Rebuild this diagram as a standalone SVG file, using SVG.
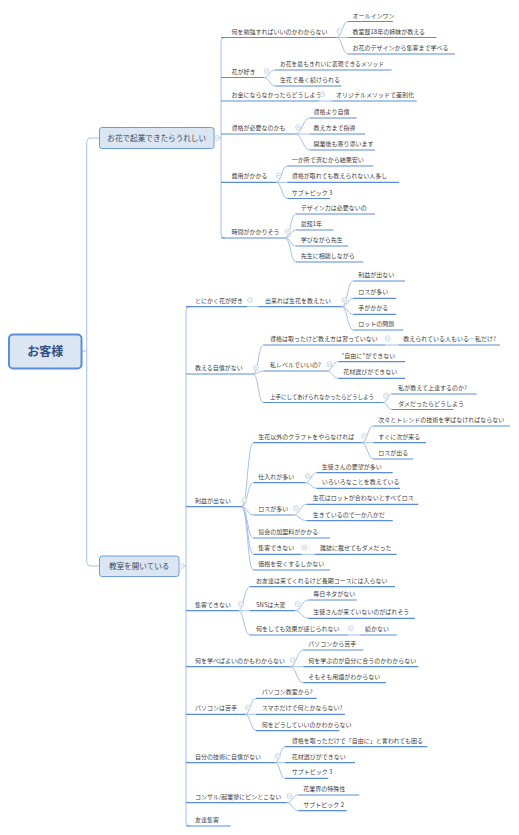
<svg xmlns="http://www.w3.org/2000/svg" xmlns:xlink="http://www.w3.org/1999/xlink" width="519" height="835" viewBox="0 0 519 835">
<style>
.t{font-family:"Noto Sans CJK JP","Noto Sans",sans-serif;font-size:6px;fill:#404040}
.bt{font-family:"Noto Sans CJK JP","Noto Sans",sans-serif;font-size:7.6px;fill:#3a4660;text-anchor:middle}
.rt{font-family:"Noto Sans CJK JP","Noto Sans",sans-serif;font-size:12px;font-weight:bold;fill:#34507a;text-anchor:middle}
.u{stroke:#5a8dd6;stroke-width:1.2;fill:none}
.c{stroke:#a3c0ea;stroke-width:1;fill:none}
.box{fill:#dce6f2;stroke:#6c9be0;stroke-width:1}
.root{fill:#dbe5f3;stroke:#5b8ed8;stroke-width:2}
.col circle{fill:#fff;stroke:#b9c5d9;stroke-width:0.7}
.col line{stroke:#b9c5d9;stroke-width:0.7}
</style>
<defs>
<g id="col" class="col"><circle r="2.5"/><line x1="-1.4" y1="0" x2="1.4" y2="0"/></g>
</defs>
<rect width="519" height="835" fill="#fff"/>

<g id="connectors">
<path class="c" d="M82 351 L86.7 351"/>
<path class="c" d="M99 138 L91 138 Q86.7 138 86.7 142.5 L86.7 561.5 Q86.7 566 91 566 L99 566"/>
<path class="c" d="M214 138 L221 138"/>
<path class="c" d="M225 37.5 Q221 37.5 221 41.5 L221 234 Q221 238 225 238"/>
<path class="c" d="M179 566 L186 566"/>
<path class="c" d="M190 306.7 Q186 306.7 186 310.7 L186 822 Q186 826 190 826"/>
<path class="c" d="M336.5 37.5 C342.2 37.5 342.2 21.5 348 21.5"/>
<path class="c" d="M336.5 37.5 L348 37.5"/>
<path class="c" d="M336.5 37.5 C342.2 37.5 342.2 54 348 54"/>
<path class="c" d="M264 77.5 C269.5 77.5 269.5 70 275 70"/>
<path class="c" d="M264 77.5 C269.5 77.5 269.5 86 275 86"/>
<path class="c" d="M319.3 101 L331.7 101"/>
<path class="c" d="M295 134 C302.5 134 302.5 118 310 118"/>
<path class="c" d="M295 134 L310 134"/>
<path class="c" d="M295 134 C302.5 134 302.5 150 310 150"/>
<path class="c" d="M276 182.3 C281.7 182.3 281.7 166 287.3 166"/>
<path class="c" d="M276 182.3 L287.3 182.3"/>
<path class="c" d="M276 182.3 C281.7 182.3 281.7 198.5 287.3 198.5"/>
<path class="c" d="M285 238 C290.5 238 290.5 214 296 214"/>
<path class="c" d="M285 238 C290.5 238 290.5 230 296 230"/>
<path class="c" d="M285 238 C290.5 238 290.5 246 296 246"/>
<path class="c" d="M285 238 C290.5 238 290.5 262 296 262"/>
<path class="c" d="M247.3 306.7 L258.3 306.7"/>
<path class="c" d="M341.7 306.7 C347.5 306.7 347.5 281 353.3 281"/>
<path class="c" d="M341.7 306.7 C347.5 306.7 347.5 298.3 353.3 298.3"/>
<path class="c" d="M341.7 306.7 C347.5 306.7 347.5 314.3 353.3 314.3"/>
<path class="c" d="M341.7 306.7 C347.5 306.7 347.5 330 353.3 330"/>
<path class="c" d="M253.3 374 C258.3 374 258.3 345 263.3 345"/>
<path class="c" d="M253.3 374 C258.3 374 258.3 371 263.3 371"/>
<path class="c" d="M253.3 374 C258.3 374 258.3 402.5 263.3 402.5"/>
<path class="c" d="M385 345 L398.3 345"/>
<path class="c" d="M326.7 371 C332.5 371 332.5 361.7 338.3 361.7"/>
<path class="c" d="M326.7 371 C332.5 371 332.5 378.3 338.3 378.3"/>
<path class="c" d="M383.3 402.5 C387.5 402.5 387.5 394 391.7 394"/>
<path class="c" d="M383.3 402.5 C387.5 402.5 387.5 409.5 391.7 409.5"/>
<path class="c" d="M241.7 506.7 C247.5 506.7 247.5 442.7 253.3 442.7"/>
<path class="c" d="M241.7 506.7 C247.5 506.7 247.5 482.7 253.3 482.7"/>
<path class="c" d="M241.7 506.7 C247.5 506.7 247.5 515 253.3 515"/>
<path class="c" d="M241.7 506.7 C247.5 506.7 247.5 538 253.3 538"/>
<path class="c" d="M241.7 506.7 C247.5 506.7 247.5 554.3 253.3 554.3"/>
<path class="c" d="M241.7 506.7 C247.5 506.7 247.5 570 253.3 570"/>
<path class="c" d="M361.7 442.7 C367.5 442.7 367.5 426 373.3 426"/>
<path class="c" d="M361.7 442.7 L373.3 442.7"/>
<path class="c" d="M361.7 442.7 C367.5 442.7 367.5 459 373.3 459"/>
<path class="c" d="M305 482.7 C311 482.7 311 472.7 316.7 472.7"/>
<path class="c" d="M305 482.7 C311 482.7 311 488.3 316.7 488.3"/>
<path class="c" d="M293.3 515 C300 515 300 504.3 306.7 504.3"/>
<path class="c" d="M293.3 515 C300 515 300 520.7 306.7 520.7"/>
<path class="c" d="M301.7 554.3 L315 554.3"/>
<path class="c" d="M238.3 610.7 C244 610.7 244 586.7 250 586.7"/>
<path class="c" d="M238.3 610.7 L250 610.7"/>
<path class="c" d="M238.3 610.7 C244 610.7 244 635 250 635"/>
<path class="c" d="M295 610.7 C301.6 610.7 301.6 600 308.3 600"/>
<path class="c" d="M295 610.7 C301.6 610.7 301.6 618.3 308.3 618.3"/>
<path class="c" d="M348.3 635 L360 635"/>
<path class="c" d="M290 666.7 C296.6 666.7 296.6 650 303.3 650"/>
<path class="c" d="M290 666.7 L303.3 666.7"/>
<path class="c" d="M290 666.7 C296.6 666.7 296.6 682.7 303.3 682.7"/>
<path class="c" d="M245 714.3 C250.5 714.3 250.5 698.3 256 698.3"/>
<path class="c" d="M245 714.3 L256 714.3"/>
<path class="c" d="M245 714.3 C250.5 714.3 250.5 730.7 256 730.7"/>
<path class="c" d="M275 762.7 C280 762.7 280 746.7 285 746.7"/>
<path class="c" d="M275 762.7 L285 762.7"/>
<path class="c" d="M275 762.7 C280 762.7 280 778.3 285 778.3"/>
<path class="c" d="M286.7 802.7 C292.5 802.7 292.5 795 298.3 795"/>
<path class="c" d="M286.7 802.7 C292.5 802.7 292.5 810.7 298.3 810.7"/>
</g>

<g id="root"><rect class="root" x="9" y="334.5" width="72.5" height="34" rx="4"/><text class="rt" x="45.3" y="355.5">お客様</text></g>

<g id="box1"><rect class="box" x="99.5" y="127.5" width="114.5" height="21" rx="2.5"/><text class="bt" x="156.7" y="140.7">お花で起業できたらうれしい</text><use xlink:href="#col" x="217" y="138"/></g>
<g id="box2"><rect class="box" x="99.5" y="556" width="79.5" height="20.5" rx="2.5"/><text class="bt" x="139.2" y="569">教室を開いている</text><use xlink:href="#col" x="181.7" y="566"/></g>

<g id="a1"><line class="u" x1="221" y1="37.5" x2="336.5" y2="37.5"/><text class="t" x="231.5" y="33.5">何を勉強すればいいのかわからない</text><use xlink:href="#col" x="339.3" y="31"/></g>
<g id="a1-1"><line class="u" x1="348" y1="21.5" x2="393" y2="21.5"/><text class="t" x="352.5" y="17.5">オールインワン</text></g>
<g id="a1-2"><line class="u" x1="348" y1="37.5" x2="436.5" y2="37.5"/><text class="t" x="352.5" y="33.5">教室歴18年の姉妹が教える</text></g>
<g id="a1-3"><line class="u" x1="348" y1="54" x2="455" y2="54"/><text class="t" x="352.5" y="50">お花のデザインから集客まで学べる</text></g>
<g id="a2"><line class="u" x1="221" y1="77.5" x2="264" y2="77.5"/><text class="t" x="231.5" y="73.5">花が好き</text><use xlink:href="#col" x="266.7" y="71"/></g>
<g id="a2-1"><line class="u" x1="275" y1="70" x2="391.5" y2="70"/><text class="t" x="280" y="66" textLength="104" lengthAdjust="spacingAndGlyphs">お花を最もきれいに表現できるメソッド</text></g>
<g id="a2-2"><line class="u" x1="275" y1="86" x2="341.5" y2="86"/><text class="t" x="280" y="82">生花で長く続けられる</text></g>
<g id="a3"><line class="u" x1="221" y1="101" x2="319.3" y2="101"/><text class="t" x="231.5" y="97">お金にならなかったらどうしよう</text><use xlink:href="#col" x="322.3" y="94.3"/></g>
<g id="a3-1"><line class="u" x1="331.7" y1="101" x2="416.7" y2="101"/><text class="t" x="336" y="97">オリジナルメソッドで差別化</text></g>
<g id="a4"><line class="u" x1="221" y1="134" x2="295" y2="134"/><text class="t" x="231.5" y="130">資格が必要なのかも</text><use xlink:href="#col" x="298" y="127.3"/></g>
<g id="a4-1"><line class="u" x1="310" y1="118" x2="356.7" y2="118"/><text class="t" x="313.5" y="114">資格より自信</text></g>
<g id="a4-2"><line class="u" x1="310" y1="134" x2="365" y2="134"/><text class="t" x="313.5" y="130">教え方まで指導</text></g>
<g id="a4-3"><line class="u" x1="310" y1="150" x2="375" y2="150"/><text class="t" x="313.5" y="146">開業後も寄り添います</text></g>
<g id="a5"><line class="u" x1="221" y1="182.3" x2="276" y2="182.3"/><text class="t" x="231.5" y="178.3">費用がかかる</text><use xlink:href="#col" x="278.7" y="175.6"/></g>
<g id="a5-1"><line class="u" x1="287.3" y1="166" x2="373.3" y2="166"/><text class="t" x="291.7" y="162">一か所で済むから結果安い</text></g>
<g id="a5-2"><line class="u" x1="287.3" y1="182.3" x2="399.3" y2="182.3"/><text class="t" x="291.7" y="178.3">資格が取れても教えられない人多し</text></g>
<g id="a5-3"><line class="u" x1="287.3" y1="198.5" x2="330" y2="198.5"/><text class="t" x="291.7" y="194.5">サブトピック 3</text></g>
<g id="a6"><line class="u" x1="221" y1="238" x2="285" y2="238"/><text class="t" x="231.5" y="234">時間がかかりそう</text><use xlink:href="#col" x="287.7" y="231.3"/></g>
<g id="a6-1"><line class="u" x1="296" y1="214" x2="375" y2="214"/><text class="t" x="300.7" y="210">デザイン力は必要ないの</text></g>
<g id="a6-2"><line class="u" x1="296" y1="230" x2="333.3" y2="230"/><text class="t" x="300.7" y="226">最短1年</text></g>
<g id="a6-3"><line class="u" x1="296" y1="246" x2="348.3" y2="246"/><text class="t" x="300.7" y="242">学びながら先生</text></g>
<g id="a6-4"><line class="u" x1="296" y1="262" x2="363.3" y2="262"/><text class="t" x="300.7" y="258">先生に相談しながら</text></g>

<g id="b1"><line class="u" x1="186" y1="306.7" x2="247.3" y2="306.7"/><text class="t" x="195" y="302.7">とにかく花が好き</text><use xlink:href="#col" x="250" y="300"/></g>
<g id="b1-1"><line class="u" x1="258.3" y1="306.7" x2="341.7" y2="306.7"/><text class="t" x="265" y="302.7">出来れば生花を教えたい</text><use xlink:href="#col" x="344.4" y="300"/></g>
<g id="b1-1-1"><line class="u" x1="353.3" y1="281" x2="405" y2="281"/><text class="t" x="358.3" y="277">利益が出ない</text></g>
<g id="b1-1-2"><line class="u" x1="353.3" y1="298.3" x2="396" y2="298.3"/><text class="t" x="358.3" y="294.3">ロスが多い</text></g>
<g id="b1-1-3"><line class="u" x1="353.3" y1="314.3" x2="396" y2="314.3"/><text class="t" x="358.3" y="310.3">手がかかる</text></g>
<g id="b1-1-4"><line class="u" x1="353.3" y1="330" x2="403.3" y2="330"/><text class="t" x="358.3" y="326">ロットの問題</text></g>

<g id="b2"><line class="u" x1="186" y1="374" x2="253.3" y2="374"/><text class="t" x="195" y="370">教える自信がない</text><use xlink:href="#col" x="256" y="367.3"/></g>
<g id="b2-1"><line class="u" x1="263.3" y1="345" x2="385" y2="345"/><text class="t" x="270" y="341">資格は取ったけど教え方は習っていない</text><use xlink:href="#col" x="387.7" y="338.3"/></g>
<g id="b2-1-1"><line class="u" x1="398.3" y1="345" x2="500" y2="345"/><text class="t" x="403.3" y="341">教えられている人もいる…私だけ?</text></g>
<g id="b2-2"><line class="u" x1="263.3" y1="371" x2="326.7" y2="371"/><text class="t" x="270" y="367">私レベルでいいの?</text><use xlink:href="#col" x="329.4" y="364.3"/></g>
<g id="b2-2-1"><line class="u" x1="338.3" y1="361.7" x2="405" y2="361.7"/><text class="t" x="341.5" y="357.7">“自由に”ができない</text></g>
<g id="b2-2-2"><line class="u" x1="338.3" y1="378.3" x2="405" y2="378.3"/><text class="t" x="343.3" y="374.3">花材選びができない</text></g>
<g id="b2-3"><line class="u" x1="263.3" y1="402.5" x2="383.3" y2="402.5"/><text class="t" x="270" y="398.5" textLength="104" lengthAdjust="spacingAndGlyphs">上手にしてあげられなかったらどうしよう</text><use xlink:href="#col" x="386" y="395.8"/></g>
<g id="b2-3-1"><line class="u" x1="391.7" y1="394" x2="476.7" y2="394"/><text class="t" x="398.3" y="390">私が教えて上達するのか?</text></g>
<g id="b2-3-2"><line class="u" x1="391.7" y1="409.5" x2="453.3" y2="409.5"/><text class="t" x="398.3" y="405.5">ダメだったらどうしよう</text></g>

<g id="b3"><line class="u" x1="186" y1="506.7" x2="241.7" y2="506.7"/><text class="t" x="195" y="502.7">利益が出ない</text><use xlink:href="#col" x="244.4" y="500"/></g>
<g id="b3-1"><line class="u" x1="253.3" y1="442.7" x2="361.7" y2="442.7"/><text class="t" x="258.3" y="438.7">生花以外のクラフトをやらなければ</text><use xlink:href="#col" x="364.4" y="436"/></g>
<g id="b3-1-1"><line class="u" x1="373.3" y1="426" x2="510" y2="426"/><text class="t" x="378.3" y="422">次々とトレンドの技術を学ばなければならない</text></g>
<g id="b3-1-2"><line class="u" x1="373.3" y1="442.7" x2="426" y2="442.7"/><text class="t" x="378.3" y="438.7">すぐに次が来る</text></g>
<g id="b3-1-3"><line class="u" x1="373.3" y1="459" x2="413.3" y2="459"/><text class="t" x="378.3" y="455">ロスが出る</text></g>
<g id="b3-2"><line class="u" x1="253.3" y1="482.7" x2="305" y2="482.7"/><text class="t" x="258.3" y="478.7">仕入れが多い</text><use xlink:href="#col" x="307.7" y="476"/></g>
<g id="b3-2-1"><line class="u" x1="316.7" y1="472.7" x2="392.7" y2="472.7"/><text class="t" x="321.7" y="468.7">生徒さんの要望が多い</text></g>
<g id="b3-2-2"><line class="u" x1="316.7" y1="488.3" x2="400" y2="488.3"/><text class="t" x="321.7" y="484.3">いろいろなことを教えている</text></g>
<g id="b3-3"><line class="u" x1="253.3" y1="515" x2="293.3" y2="515"/><text class="t" x="258.3" y="511">ロスが多い</text><use xlink:href="#col" x="296" y="508.3"/></g>
<g id="b3-3-1"><line class="u" x1="306.7" y1="504.3" x2="418.3" y2="504.3"/><text class="t" x="312.7" y="500.3">生花はロットが合わないとすべてロス</text></g>
<g id="b3-3-2"><line class="u" x1="306.7" y1="520.7" x2="392.7" y2="520.7"/><text class="t" x="312.7" y="516.7">生きているので一か八かだ</text></g>
<g id="b3-4"><line class="u" x1="253.3" y1="538" x2="330" y2="538"/><text class="t" x="258.3" y="534">協会の加盟料がかかる</text></g>
<g id="b3-5"><line class="u" x1="253.3" y1="554.3" x2="301.7" y2="554.3"/><text class="t" x="258.3" y="550.3">集客できない</text><use xlink:href="#col" x="304.4" y="547.6"/></g>
<g id="b3-5-1"><line class="u" x1="315" y1="554.3" x2="396.7" y2="554.3"/><text class="t" x="320" y="550.3">雑誌に載せてもダメだった</text></g>
<g id="b3-6"><line class="u" x1="253.3" y1="570" x2="330" y2="570"/><text class="t" x="258.3" y="566">価格を安くするしかない</text></g>

<g id="b4"><line class="u" x1="186" y1="610.7" x2="238.3" y2="610.7"/><text class="t" x="195" y="606.7">集客できない</text><use xlink:href="#col" x="241" y="604"/></g>
<g id="b4-1"><line class="u" x1="250" y1="586.7" x2="395" y2="586.7"/><text class="t" x="256" y="582.7">お友達は来てくれるけど長期コースには入らない</text></g>
<g id="b4-2"><line class="u" x1="250" y1="610.7" x2="295" y2="610.7"/><text class="t" x="256" y="606.7">SNSは大変</text><use xlink:href="#col" x="297.7" y="604"/></g>
<g id="b4-2-1"><line class="u" x1="308.3" y1="600" x2="356.7" y2="600"/><text class="t" x="313.3" y="596">毎日ネタがない</text></g>
<g id="b4-2-2"><line class="u" x1="308.3" y1="618.3" x2="415" y2="618.3"/><text class="t" x="313.3" y="614.3">生徒さんが来ていないのがばれそう</text></g>
<g id="b4-3"><line class="u" x1="250" y1="635" x2="348.3" y2="635"/><text class="t" x="256" y="631">何をしても効果が感じられない</text><use xlink:href="#col" x="351" y="628.3"/></g>
<g id="b4-3-1"><line class="u" x1="360" y1="635" x2="396.7" y2="635"/><text class="t" x="365" y="631">続かない</text></g>

<g id="b5"><line class="u" x1="186" y1="666.7" x2="290" y2="666.7"/><text class="t" x="195" y="662.7">何を学べばよいのかもわからない</text><use xlink:href="#col" x="292.7" y="660"/></g>
<g id="b5-1"><line class="u" x1="303.3" y1="650" x2="363.3" y2="650"/><text class="t" x="308.3" y="646">パソコンから苦手</text></g>
<g id="b5-2"><line class="u" x1="303.3" y1="666.7" x2="418.3" y2="666.7"/><text class="t" x="308.3" y="662.7">何を学ぶのが自分に合うのかわからない</text></g>
<g id="b5-3"><line class="u" x1="303.3" y1="682.7" x2="386" y2="682.7"/><text class="t" x="308.3" y="678.7">そもそも用語がわからない</text></g>

<g id="b6"><line class="u" x1="186" y1="714.3" x2="245" y2="714.3"/><text class="t" x="195" y="710.3">パソコンは苦手</text><use xlink:href="#col" x="247.7" y="707.6"/></g>
<g id="b6-1"><line class="u" x1="256" y1="698.3" x2="316.7" y2="698.3"/><text class="t" x="261.7" y="694.3">パソコン教室から?</text></g>
<g id="b6-2"><line class="u" x1="256" y1="714.3" x2="345" y2="714.3"/><text class="t" x="261.7" y="710.3">スマホだけで何とかならない?</text></g>
<g id="b6-3"><line class="u" x1="256" y1="730.7" x2="339.3" y2="730.7"/><text class="t" x="261.7" y="726.7">何をどうしていいのかわからない</text></g>

<g id="b7"><line class="u" x1="186" y1="762.7" x2="275" y2="762.7"/><text class="t" x="195" y="758.7">自分の技術に自信がない</text><use xlink:href="#col" x="277.7" y="756"/></g>
<g id="b7-1"><line class="u" x1="285" y1="746.7" x2="427.3" y2="746.7"/><text class="t" x="291.7" y="742.7">資格を取っただけで「自由に」と言われても困る</text></g>
<g id="b7-2"><line class="u" x1="285" y1="762.7" x2="355" y2="762.7"/><text class="t" x="291.7" y="758.7">花材選びができない</text></g>
<g id="b7-3"><line class="u" x1="285" y1="778.3" x2="328.3" y2="778.3"/><text class="t" x="291.7" y="774.3">サブトピック 3</text></g>

<g id="b8"><line class="u" x1="186" y1="802.7" x2="286.7" y2="802.7"/><text class="t" x="195" y="798.7">コンサル/起業塾にピンとこない</text><use xlink:href="#col" x="289.4" y="796"/></g>
<g id="b8-1"><line class="u" x1="298.3" y1="795" x2="359.3" y2="795"/><text class="t" x="303.3" y="791">花業界の特殊性</text></g>
<g id="b8-2"><line class="u" x1="298.3" y1="810.7" x2="346.7" y2="810.7"/><text class="t" x="303.3" y="806.7">サブトピック 2</text></g>

<g id="b9"><line class="u" x1="186" y1="826" x2="230.7" y2="826"/><text class="t" x="195" y="822">友達集客</text></g>
</svg>
